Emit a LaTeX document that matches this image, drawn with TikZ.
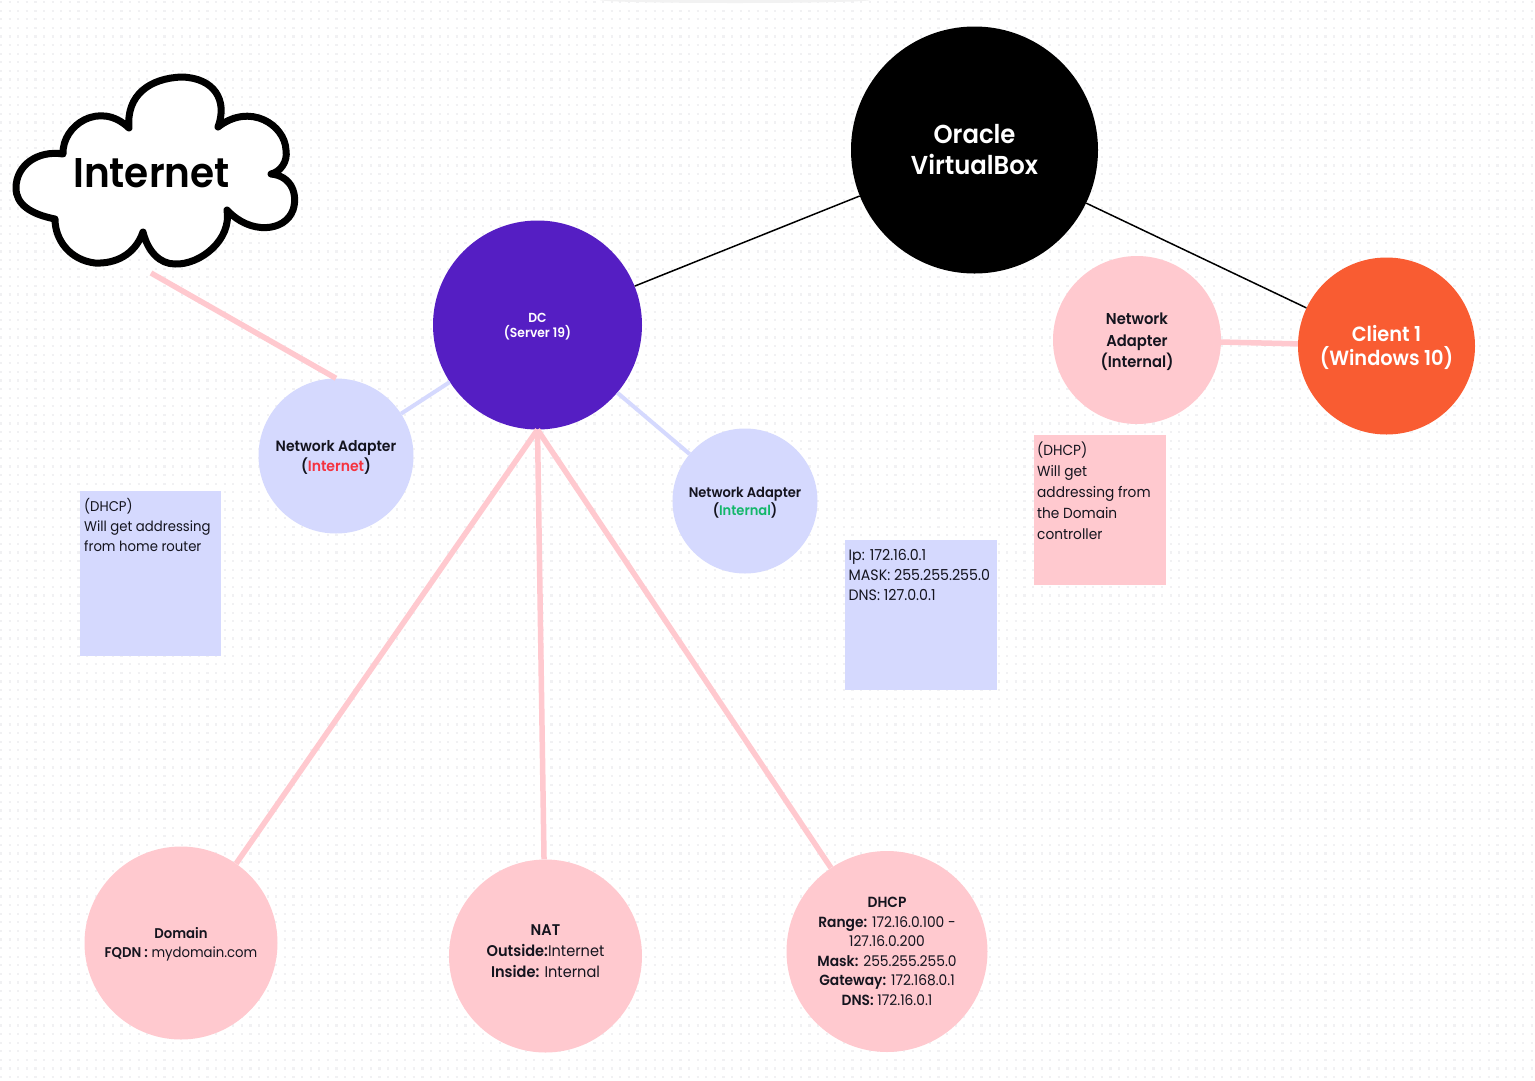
\documentclass[tikz,border=0pt]{standalone}
\usepackage{fontspec}
\setmainfont{Poppins}[FakeStretch=0.94, BoldFont={Poppins SemiBold}, BoldFeatures={FakeStretch=0.94}]
\definecolor{pinkc}{HTML}{FFC9CF}
\definecolor{bluec}{HTML}{D5D9FE}
\definecolor{purplec}{HTML}{551EC3}
\definecolor{orangec}{HTML}{F95C32}
\definecolor{inkc}{HTML}{14141E}
\definecolor{dotc}{HTML}{F1F1F3}
\definecolor{redc}{HTML}{F5333F}
\definecolor{greenc}{HTML}{12B76A}
\newcommand{\lifted}[2]{\raisebox{#1}[0pt][0pt]{\begin{tabular}{@{}c@{}}#2\end{tabular}}}
\tikzset{
  disc/.style={circle, inner sep=0pt, align=center, text=inkc},
  pinkdisc/.style={disc, fill=pinkc},
  bluedisc/.style={disc, fill=bluec},
  notetext/.style={anchor=north west, inner sep=0pt, align=left, text=inkc, font=\fontsize{14.1}{20.2}\selectfont},
  pinkline/.style={draw=pinkc, line width=5.5pt},
  blueline/.style={draw=bluec, line width=4pt},
  blackline/.style={draw=black, line width=1.5pt}
}
\begin{document}
\begin{tikzpicture}[x=1pt, y=-1pt]
    \useasboundingbox (0,0) rectangle (1535,1080);
    \fill[white] (0,0) rectangle (1535,1080);
    % dotted paper
    \foreach \r in {2,10.6,...,1078}
        \draw[dotc, line width=2.2pt, dash pattern=on 2.2pt off 6.4pt] (0,\r) -- (1535,\r);
    \fill[black!5] (735,0) ellipse [x radius=135, y radius=3];
    % discs
    \node[disc, minimum size=247pt, fill=black, text=white, font=\fontsize{25.9}{31}\selectfont\bfseries] (vbox) at (974.5,150) {Oracle\\VirtualBox};
    \node[disc, minimum size=209pt, fill=purplec, text=white, font=\fontsize{13.1}{15}\selectfont\bfseries] (dc) at (537.5,325) {\lifted{-4.8pt}{DC\\[-2pt](Server 19)}};
    \node[disc, minimum size=177pt, fill=orangec, text=white, font=\fontsize{20.6}{24}\selectfont\bfseries] (client) at (1386.5,346) {\lifted{-8pt}{Client 1\\[-2pt](Windows 10)}};
    \node[pinkdisc, minimum size=168pt, font=\fontsize{15.7}{21.5}\selectfont\bfseries] (nicc) at (1137,340) {\lifted{-5.4pt}{Network\\Adapter\\(Internal)}};
    \node[bluedisc, minimum size=155pt, font=\fontsize{14.9}{20}\selectfont\bfseries] (nicext) at (336,456) {\lifted{-4.7pt}{Network Adapter\\(\textcolor{redc}{Internet})}};
    \node[bluedisc, minimum size=145pt, font=\fontsize{13.9}{18}\selectfont\bfseries] (nicint) at (745,501) {\lifted{-5.5pt}{Network Adapter\\(\textcolor{greenc}{Internal})}};
    \node[pinkdisc, minimum size=193pt, font=\fontsize{14.1}{19.5}\selectfont] (domain) at (181,943) {\lifted{-4.5pt}{\textbf{Domain}\\\textbf{FQDN :} mydomain.com}};
    \node[pinkdisc, minimum size=193pt, font=\fontsize{15.5}{21}\selectfont] (nat) at (545.5,956) {\lifted{0.1pt}{\textbf{NAT}\\\textbf{Outside:}Internet\\\textbf{Inside:} Internal}};
    \node[pinkdisc, minimum size=201pt, font=\fontsize{14.7}{19.5}\selectfont] (dhcp) at (887,951.5) {\textbf{DHCP}\\\textbf{Range:} 172.16.0.100 -\\127.16.0.200\\\textbf{Mask:} 255.255.255.0\\\textbf{Gateway:} 172.168.0.1\\\textbf{DNS:} 172.16.0.1};
    % cloud
    \draw[line width=7pt, fill=white, line join=round, line cap=round] (55,219)
        .. controls (30,214) and (16,204) .. (16,188)
        .. controls (16,165) and (38,150) .. (63,154)
        .. controls (62,125) and (100,100) .. (129,128)
        .. controls (126,95) and (150,78) .. (182,77)
        .. controls (214,78) and (228,100) .. (218,127)
        .. controls (250,102) and (285,125) .. (286,150)
        .. controls (288,162) and (280,172) .. (271,174)
        .. controls (292,176) and (298,195) .. (293,210)
        .. controls (285,232) and (250,235) .. (227,210)
        .. controls (232,240) and (200,265) .. (175,264)
        .. controls (160,264) and (148,252) .. (143,232)
        .. controls (135,255) and (115,264) .. (95,263)
        .. controls (70,260) and (55,240) .. (55,219)
        -- cycle;
    \node[inner sep=0pt, font=\fontsize{41.5}{46}\selectfont\bfseries, text=black] (cloudlabel) at (151.5,173) {Internet};
    \coordinate (cloudfoot) at (151,273);
    % connectors
    \draw[blackline] (vbox) -- (dc);
    \draw[blackline] (vbox) -- (client);
    \draw[pinkline] (nicc) -- (client);
    \draw[blueline] (dc) -- (nicext);
    \draw[blueline] (dc) -- (nicint);
    \draw[pinkline] (cloudfoot) -- (nicext.north);
    \draw[pinkline] (dc.south) -- (domain);
    \draw[pinkline] (dc.south) -- (nat);
    \draw[pinkline] (dc.south) -- (dhcp);
    % notes
    \fill[bluec] (80,490.5) rectangle (221,656);
    \node[notetext] (wannote) at (84,498) {(DHCP)\\Will get addressing\\from home router};
    \fill[bluec] (845,540) rectangle (997,690);
    \node[notetext, font=\fontsize{15.1}{20.2}\selectfont] (lannote) at (848.5,549) {Ip: 172.16.0.1\\MASK: 255.255.255.0\\DNS: 127.0.0.1};
    \fill[pinkc] (1034,435) rectangle (1166,585);
    \node[notetext, font=\fontsize{14.6}{21}\selectfont] (clientnote) at (1037,442) {(DHCP)\\Will get\\addressing from\\the Domain\\controller};
\end{tikzpicture}
\end{document}
